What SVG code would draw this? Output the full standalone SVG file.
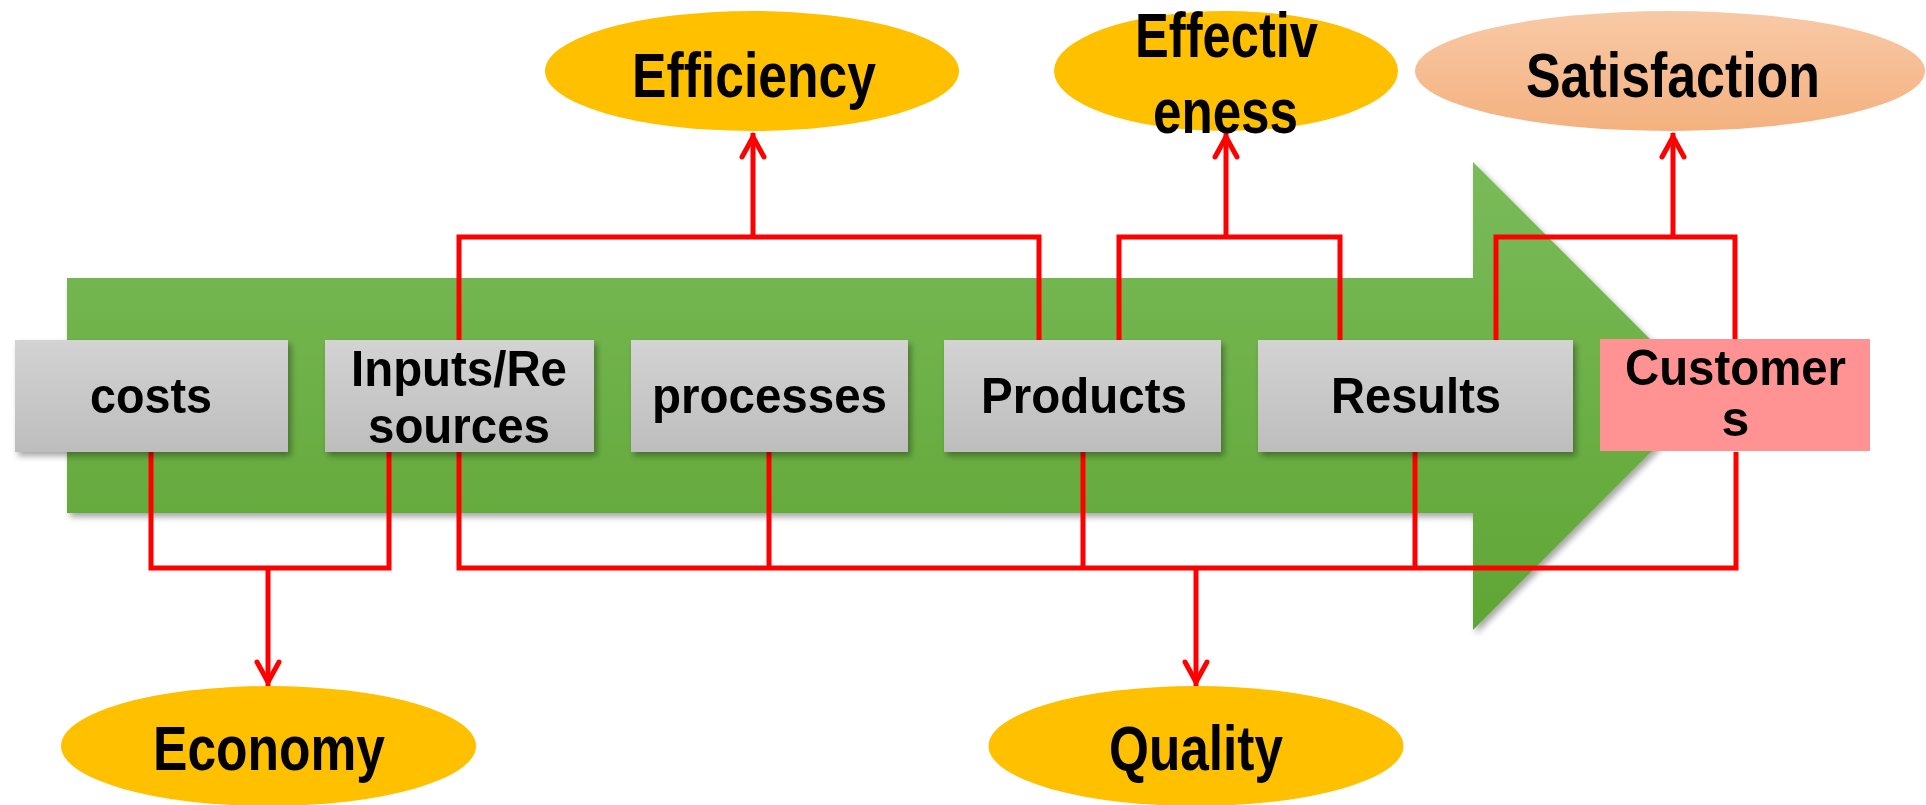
<svg xmlns="http://www.w3.org/2000/svg" width="1926" height="805" viewBox="0 0 1926 805">
  <defs>
    <linearGradient id="gGreen" x1="0" y1="0" x2="0" y2="1">
      <stop offset="0" stop-color="#7abb5a"/>
      <stop offset="1" stop-color="#5fa534"/>
    </linearGradient>
    <linearGradient id="gGray" x1="0" y1="0" x2="0" y2="1">
      <stop offset="0" stop-color="#d3d3d3"/>
      <stop offset="1" stop-color="#bdbdbd"/>
    </linearGradient>
    <linearGradient id="gPeach" x1="0" y1="0" x2="0" y2="1">
      <stop offset="0" stop-color="#f8c9a6"/>
      <stop offset="1" stop-color="#f4b17f"/>
    </linearGradient>
    <filter id="shadow" x="-10%" y="-10%" width="130%" height="140%">
      <feDropShadow dx="3" dy="4" stdDeviation="3" flood-color="#000" flood-opacity="0.35"/>
    </filter>
    <marker id="head" markerUnits="userSpaceOnUse" viewBox="-30 -16 34 32" refX="0" refY="0" markerWidth="34" markerHeight="32" orient="auto">
      <path d="M-24,-11 L-4,0 L-24,11" fill="none" stroke="#ff0000" stroke-width="5" stroke-linecap="round" stroke-linejoin="miter"/>
    </marker>
    <style>
      .box { fill: url(#gGray); filter: url(#shadow); }
      .cust { fill: #ff9393; }
      .oval { fill: #ffc000; }
      .peach { fill: url(#gPeach); }
      .lbl { font-family: "Liberation Sans", Arial, sans-serif; font-weight: bold; fill: #000; text-anchor: middle; }
      .bl { font-size: 50px; }
      .el { font-size: 63px; }
      .wire { fill: none; stroke: #ff0000; stroke-width: 5; stroke-linejoin: miter; }
      .arr { fill: none; stroke: #ff0000; stroke-width: 5; marker-end: url(#head); }
    </style>
  </defs>

  <rect width="1926" height="805" fill="#ffffff"/>

  <!-- big flow arrow in the background -->
  <g id="flow-arrow">
    <polygon points="67,278 1473,278 1473,162 1707,396 1473,630 1473,513 67,513" fill="url(#gGreen)" filter="url(#shadow)"/>
  </g>

  <!-- connectors -->
  <g id="connectors">
    <!-- upper brackets -->
    <path class="wire" d="M459,340 V237 H1039 V340"/>
    <path class="arr" d="M753,237 V133"/>
    <path class="wire" d="M1119,340 V237 H1340 V340"/>
    <path class="arr" d="M1226,237 V133"/>
    <path class="wire" d="M1496,340 V237 H1735 V340"/>
    <path class="arr" d="M1673,237 V133"/>
    <!-- lower brackets -->
    <path class="wire" d="M151,452 V568 H389 V452"/>
    <path class="arr" d="M268,568 V686"/>
    <path class="wire" d="M459,452 V568 H1736 V452"/>
    <path class="wire" d="M769,452 V568"/>
    <path class="wire" d="M1083,452 V568"/>
    <path class="wire" d="M1415,452 V568"/>
    <path class="arr" d="M1196,568 V686"/>
  </g>

  <!-- stage boxes -->
  <g id="costs">
    <rect class="box" x="15" y="340" width="273" height="112"/>
    <text class="lbl bl" x="151" y="413" textLength="122" lengthAdjust="spacingAndGlyphs">costs</text>
  </g>
  <g id="inputs">
    <rect class="box" x="325" y="340" width="269" height="112"/>
    <text class="lbl bl" x="459" y="386" textLength="216" lengthAdjust="spacingAndGlyphs">Inputs/Re</text>
    <text class="lbl bl" x="459" y="443" textLength="182" lengthAdjust="spacingAndGlyphs">sources</text>
  </g>
  <g id="processes">
    <rect class="box" x="631" y="340" width="277" height="112"/>
    <text class="lbl bl" x="769.5" y="413" textLength="235" lengthAdjust="spacingAndGlyphs">processes</text>
  </g>
  <g id="products">
    <rect class="box" x="944" y="340" width="277" height="112"/>
    <text class="lbl bl" x="1084" y="413" textLength="206" lengthAdjust="spacingAndGlyphs">Products</text>
  </g>
  <g id="results">
    <rect class="box" x="1258" y="340" width="315" height="112"/>
    <text class="lbl bl" x="1416" y="413" textLength="170" lengthAdjust="spacingAndGlyphs">Results</text>
  </g>
  <g id="customers">
    <rect class="cust" x="1600" y="339" width="270" height="112"/>
    <text class="lbl bl" x="1735.5" y="385" textLength="221" lengthAdjust="spacingAndGlyphs">Customer</text>
    <text class="lbl bl" x="1735.5" y="436">s</text>
  </g>

  <!-- outcome ovals -->
  <g id="efficiency">
    <ellipse class="oval" cx="752" cy="71" rx="207" ry="60"/>
    <text class="lbl el" x="754" y="97" textLength="244" lengthAdjust="spacingAndGlyphs">Efficiency</text>
  </g>
  <g id="effectiveness">
    <ellipse class="oval" cx="1226" cy="71" rx="172" ry="60"/>
    <text class="lbl el" x="1226.5" y="57" textLength="183" lengthAdjust="spacingAndGlyphs">Effectiv</text>
    <text class="lbl el" x="1225.5" y="133" textLength="145" lengthAdjust="spacingAndGlyphs">eness</text>
  </g>
  <g id="satisfaction">
    <ellipse class="peach" cx="1670" cy="71" rx="255" ry="60"/>
    <text class="lbl el" x="1673" y="97" textLength="294" lengthAdjust="spacingAndGlyphs">Satisfaction</text>
  </g>
  <g id="economy">
    <ellipse class="oval" cx="268.5" cy="746" rx="207.5" ry="60"/>
    <text class="lbl el" x="269" y="770" textLength="232" lengthAdjust="spacingAndGlyphs">Economy</text>
  </g>
  <g id="quality">
    <ellipse class="oval" cx="1196" cy="746" rx="207.5" ry="60"/>
    <text class="lbl el" x="1196" y="770" textLength="174" lengthAdjust="spacingAndGlyphs">Quality</text>
  </g>
</svg>
